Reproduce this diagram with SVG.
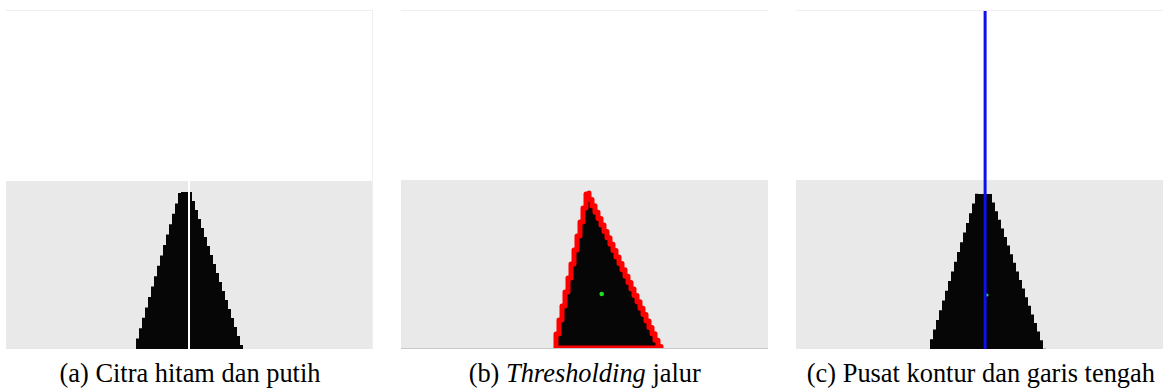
<svg xmlns="http://www.w3.org/2000/svg" width="1163" height="389" viewBox="0 0 1163 389">
<style>
.top{fill:#ffffff}
.bg{fill:#e9e9e9}
.edge{stroke:#efefef;stroke-width:1;fill:none}
.blob{fill:#060606}
.cap{font-size:26.4px;fill:#000;text-anchor:middle}
</style>
<defs>
<clipPath id="clipA"><rect x="6" y="10" width="367" height="339"/></clipPath>
<clipPath id="clipB"><rect x="401" y="10" width="367" height="339"/></clipPath>
<clipPath id="clipC"><rect x="796" y="10" width="367" height="339"/></clipPath>
</defs>
<rect x="0" y="0" width="1163" height="389" fill="#ffffff"/>

<g id="panel-a">
<g clip-path="url(#clipA)">
<rect class="top" x="6" y="10" width="367" height="171"/>
<rect class="bg" x="6" y="181" width="367" height="168"/>
<path class="blob" d="M182,192 H192 v9h3v9h3v9h3v9h3v9h3v9h3v9h3v9h3v9h3v9h3v9h3v9h3v9h3v9h3v9h3v9h3v9h3 V349 H136 v-10.4h3v-10.4h3v-10.4h3v-10.4h3v-10.4h3v-10.4h3v-10.4h3v-10.4h3v-10.4h3v-10.4h3v-10.4h3v-10.4h3v-10.4h3v-10.4h3v-10.4h3 V192 Z"/>
<rect x="188" y="181" width="2" height="168" fill="#ffffff"/>
</g>
<line class="edge" x1="6" y1="10.5" x2="373" y2="10.5"/>
<line class="edge" x1="372.5" y1="10" x2="372.5" y2="349"/>
<text class="cap" font-family="'Liberation Serif', 'Times New Roman', serif" x="190" y="381.5">(a) Citra hitam dan putih</text>
</g>

<g id="panel-b">
<g clip-path="url(#clipB)">
<rect class="top" x="401" y="10" width="367" height="170"/>
<rect class="bg" x="401" y="180" width="367" height="169"/>
<path class="blob" stroke="#ff0000" stroke-width="5" stroke-linejoin="round" d="M589,193 v6.4h3v6.4h3v6.4h3v6.4h3v6.4h3v6.4h3v6.4h3v6.4h3v6.4h3v6.4h3v6.4h3v6.4h3v6.4h3v6.4h3v6.4h3v6.4h3v6.4h3v6.4h3v6.4h3v6.4h3v6.4h3v6.4h3v6.4h3v6.4h3 V348 H556 v-14h3v-14h3v-14h3v-14h3v-14h3v-14h3v-14h3v-14h3v-14h3v-14h3v-14h3 Z"/>
<circle cx="601.7" cy="294" r="2.3" fill="#22dd22"/>
</g>
<line class="edge" x1="401" y1="10.5" x2="768" y2="10.5"/>
<line x1="401" y1="348.5" x2="768" y2="348.5" stroke="#c8c8c8" stroke-width="1"/>
<text class="cap" font-family="'Liberation Serif', 'Times New Roman', serif" x="584.7" y="381.5">(b) <tspan font-style="italic">Thresholding</tspan> jalur</text>
</g>

<g id="panel-c">
<g clip-path="url(#clipC)">
<rect class="top" x="796" y="10" width="367" height="170"/>
<rect class="bg" x="796" y="180" width="367" height="169"/>
<path class="blob" d="M978,194 H992 v8.6h3v8.6h3v8.6h3v8.6h3v8.6h3v8.6h3v8.6h3v8.6h3v8.6h3v8.6h3v8.6h3v8.6h3v8.6h3v8.6h3v8.6h3v8.6h3v8.6h3v8.6h3 V349 H930 v-9.7h3v-9.7h3v-9.7h3v-9.7h3v-9.7h3v-9.7h3v-9.7h3v-9.7h3v-9.7h3v-9.7h3v-9.7h3v-9.7h3v-9.7h3v-9.7h3v-9.7h3v-9.7h3 Z"/>
<circle cx="987" cy="295" r="1.6" fill="#22dd22"/>
<rect x="983.6" y="10" width="3" height="339" fill="#1010ee"/>
</g>
<line class="edge" x1="796" y1="10.5" x2="1163" y2="10.5"/>
<text class="cap" font-family="'Liberation Serif', 'Times New Roman', serif" x="980.9" y="381.5">(c) Pusat kontur dan garis tengah</text>
</g>
</svg>
